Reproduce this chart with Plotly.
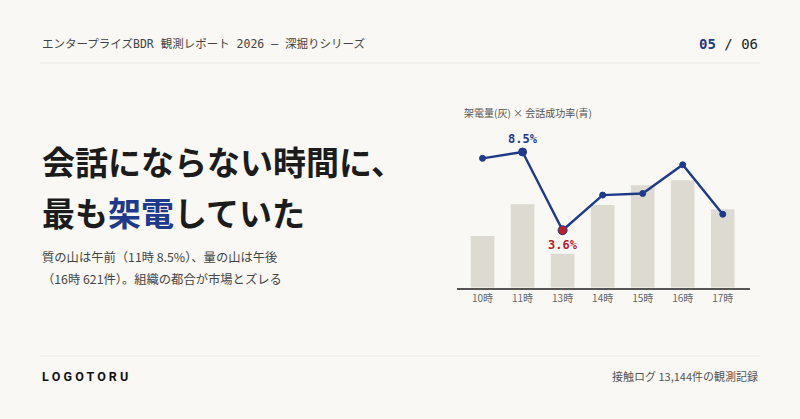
import plotly.graph_objects as go

hours = ["10時", "11時", "13時", "14時", "15時", "16時", "17時"]
calls = [299, 482, 197, 478, 592, 621, 453]
rate = [8.1, 8.5, 3.6, 5.8, 5.9, 7.7, 4.6]

BG = "#f9f8f4"
NAVY = "#1f3a8a"
RED = "#b8222a"
BAR = "#dddad1"
SANS = "Noto Sans CJK JP, Noto Sans, sans-serif"
MONO = "DejaVu Sans Mono, Noto Sans CJK JP, monospace"

hi_max = rate.index(max(rate))
lo_min = rate.index(min(rate))
sizes = [6] * len(rate)
colors = [NAVY] * len(rate)
sizes[hi_max] = 8
sizes[lo_min] = 9
colors[lo_min] = RED

fig = go.Figure()
fig.add_trace(go.Bar(x=hours, y=calls, marker=dict(color=BAR, line=dict(width=0)),
                     hoverinfo="skip", yaxis="y"))
fig.add_trace(go.Scatter(x=hours, y=rate, yaxis="y2", mode="lines+markers",
                         line=dict(color=NAVY, width=2.4),
                         marker=dict(size=sizes, color=colors, opacity=1), hoverinfo="skip"))

fig.add_annotation(x=hours[hi_max], y=rate[hi_max], xref="x", yref="y2",
                   text=f"<b>{rate[hi_max]:.1f}%</b>", showarrow=False, yshift=13,
                   font=dict(family=MONO, size=12, color=NAVY))
fig.add_annotation(x=hours[lo_min], y=rate[lo_min], xref="x", yref="y2",
                   text=f"<b>{rate[lo_min]:.1f}%</b>", showarrow=False, yshift=-15,
                   font=dict(family=MONO, size=12, color=RED))

W, H = 800, 419
def px(x, y):
    return x / W, 1 - y / H

anns = [
    (40, 44, "エンタープライズBDR 観測レポート 2026 — 深掘りシリーズ", MONO, 11.5, "#444", "left"),
    (760, 44, f"<b><span style='color:{NAVY}'>05</span></b> / 06", MONO, 14, "#222", "right"),
    (40, 161, "<b>会話にならない時間に、</b>", SANS, 33, "#1c1c1c", "left"),
    (40, 212, f"<b>最も<span style='color:{NAVY}'>架電</span>していた</b>", SANS, 33, "#1c1c1c", "left"),
    (40, 257, "質の山は午前（11時 8.5%）、量の山は午後", SANS, 12.3, "#444", "left"),
    (40, 279, "（16時 621件）。組織の都合が市場とズレる", SANS, 12.3, "#444", "left"),
    (462, 113, "架電量(灰) × 会話成功率(青)", SANS, 10, "#555", "left"),
    (40, 376, "<b>L O G O T O R U</b>", "Roboto, sans-serif", 12.5, "#111", "left"),
    (760, 376, "接触ログ 13,144件の観測記録", SANS, 11, "#555", "right"),
]
for x, y, t, f, s, c, a in anns:
    xx, yy = px(x, y)
    fig.add_annotation(x=xx, y=yy, xref="paper", yref="paper", text=t, showarrow=False,
                       xanchor=a, yanchor="middle", font=dict(family=f, size=s, color=c))

for y in (63, 356):
    fig.add_shape(type="line", xref="paper", yref="paper", x0=40 / W, x1=760 / W,
                  y0=1 - y / H, y1=1 - y / H, line=dict(color="#e9e7e1", width=1.2))

fig.update_layout(
    width=W, height=H, margin=dict(l=0, r=0, t=0, b=0),
    paper_bgcolor=BG, plot_bgcolor=BG, showlegend=False, bargap=0.41,
    xaxis=dict(domain=[457.3 / W, 750 / W], range=[-0.63, 6.68], showgrid=False,
               showline=True, linecolor="#555", linewidth=2, ticks="",
               tickfont=dict(family=SANS, size=10, color="#666"), zeroline=False),
    yaxis=dict(domain=[1 - 287.7 / H, 1 - 140 / H], range=[0, 854], visible=False),
    yaxis2=dict(domain=[1 - 287.7 / H, 1 - 140 / H], range=[0, 9.25], overlaying="y",
                visible=False),
)

fig.write_html("out.html", config={"displayModeBar": False},
               post_script="document.body.style.margin='0';document.body.style.background='%s';" % BG)
